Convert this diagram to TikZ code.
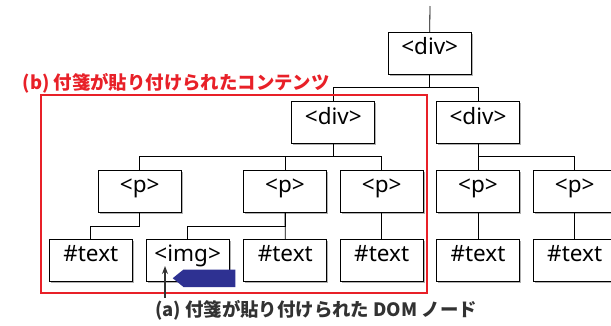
\documentclass[tikz,border=0pt]{standalone}
\usepackage{fontspec}
\newfontfamily\boxfont{Noto Sans}
\newfontfamily\jp{Noto Sans CJK JP}
\usetikzlibrary{shadows,arrows.meta}
\definecolor{redline}{RGB}{232,32,40}
\definecolor{navy}{RGB}{46,49,146}
\definecolor{darktext}{RGB}{50,50,50}
\tikzset{
  treebox/.style={draw=black, line width=0.8pt, fill=white, minimum width=83pt,
    inner xsep=0pt, inner ysep=0pt, text height=22.4pt, text depth=19.3pt,
    font=\boxfont\fontsize{22.5}{25}\selectfont,
    drop shadow={shadow xshift=1.6pt, shadow yshift=-1.6pt, fill=black, opacity=0.3}},
  conn/.style={draw=black, line width=0.8pt},
  lbl/.style={font=\jp\bfseries\fontsize{18.4}{20}\selectfont, inner sep=0pt, anchor=west}
}
\begin{document}
\begin{tikzpicture}[x=1pt,y=-1pt]
\useasboundingbox (0,0) rectangle (611,325);
% bus levels
\coordinate (bus1) at (0,87.3);
\coordinate (bus2) at (0,156.7);
\coordinate (bus3) at (0,226);
\coordinate (topin) at (430,6);
% nodes
\node[treebox] (top) at (429.7,53.2) {<div>};
\node[treebox] (divL) at (333.3,122.5) {<div>};
\node[treebox] (divR) at (478,122.5) {<div>};
\node[treebox] (p1) at (139.7,191.3) {<p>};
\node[treebox] (p2) at (285,191.3) {<p>};
\node[treebox] (p3) at (381.7,191.3) {<p>};
\node[treebox] (p4) at (478,191.3) {<p>};
\node[treebox] (p5) at (574.7,191.3) {<p>};
\node[treebox] (t1) at (90.8,260.2) {\#text};
\node[treebox] (img) at (187.7,260.2) {<img>};
\node[treebox] (t2) at (285.3,260.2) {\#text};
\node[treebox] (t3) at (381.7,260.2) {\#text};
\node[treebox] (t4) at (478,260.2) {\#text};
\node[treebox] (t5) at (574.7,260.2) {\#text};
% connectors
\draw[conn] (topin) -- (top.north);
\draw[conn] (top.south) -- (top.south |- bus1) -| (divL.north);
\draw[conn] (top.south |- bus1) -| (divR.north);
\draw[conn] (divL.south) -- (divL.south |- bus2) -| (p1.north);
\draw[conn] (divL.south |- bus2) -| (p2.north);
\draw[conn] (divL.south |- bus2) -| (p3.north);
\draw[conn] (divR.south) -- (p4.north);
\draw[conn] (divR.south |- bus2) -| (p5.north);
\draw[conn] (p1.south) -- (p1.south |- bus3) -| (t1.north);
\draw[conn] (p2.south) -- (p2.south |- bus3) -| (img.north);
\draw[conn] (p2.south) -- (t2.north);
\draw[conn] (p3.south) -- (t3.north);
\draw[conn] (p4.south) -- (t4.north);
\draw[conn] (p5.south) -- (t5.north);
% red frame
\draw[redline, line width=2pt] (41,95) rectangle (427,292.7);
\node[lbl, text=redline] (blabel) at (22.5,83) {(b) 付箋が貼り付けられたコンテンツ};
% sticky note
\fill[navy] (172.7,278.2) -- (183.5,269.5) -- (235.3,269.5) -- (235.3,287) -- (183.5,287) -- cycle;
% annotation
\node[lbl, text=darktext] (alabel) at (155,310) {(a) 付箋が貼り付けられた DOM ノード};
\coordinate (atip) at (165,266);
\draw[darktext, line width=1.5pt, -{Stealth[length=8pt,width=6pt]}] (alabel.north west -| atip) ++(0,-2) -- (atip);
\end{tikzpicture}
\end{document}
